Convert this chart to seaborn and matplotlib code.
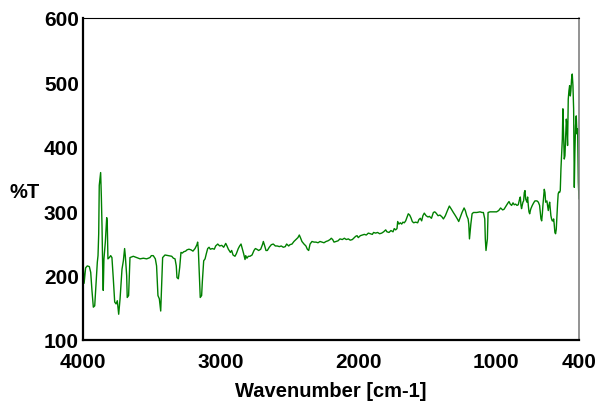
import matplotlib
matplotlib.use("Agg")
import matplotlib.pyplot as plt
import pandas as pd
import seaborn as sns
from matplotlib.ticker import FixedLocator

# IR spectrum: wavenumber (cm-1) and transmittance (%T)
wavenumber = [
    4000, 3992, 3981, 3969, 3954, 3944, 3935, 3925, 3915, 3906, 3896, 3891, 3886, 3882, 3872,
    3867, 3862, 3857, 3853, 3848, 3838, 3828, 3824, 3819, 3809, 3799, 3790, 3780, 3770, 3760,
    3751, 3741, 3731, 3722, 3717, 3707, 3698, 3693, 3683, 3679, 3669, 3664, 3659, 3635, 3610,
    3586, 3562, 3538, 3514, 3504, 3490, 3475, 3466, 3456, 3446, 3436, 3432, 3422, 3405, 3381,
    3356, 3344, 3332, 3323, 3318, 3308, 3298, 3289, 3279, 3269, 3255, 3245, 3231, 3216, 3202,
    3187, 3173, 3168, 3163, 3158, 3153, 3149, 3139, 3134, 3124, 3114, 3105, 3095, 3085, 3076,
    3061, 3047, 3037, 3022, 3008, 2993, 2979, 2964, 2955, 2945, 2930, 2921, 2911, 2897, 2887,
    2873, 2863, 2853, 2843, 2834, 2824, 2819, 2810, 2800, 2788, 2773, 2759, 2749, 2739, 2725,
    2710, 2696, 2691, 2681, 2672, 2662, 2648, 2633, 2619, 2604, 2590, 2575, 2561, 2546, 2532,
    2522, 2507, 2498, 2483, 2469, 2454, 2440, 2430, 2420, 2411, 2396, 2382, 2372, 2362, 2352,
    2338, 2323, 2309, 2294, 2280, 2265, 2251, 2236, 2222, 2207, 2198, 2188, 2178, 2164, 2149,
    2135, 2118, 2103, 2089, 2074, 2060, 2045, 2031, 2021, 2011, 2002, 1987, 1973, 1958, 1944,
    1929, 1915, 1900, 1891, 1876, 1862, 1847, 1832, 1818, 1803, 1794, 1779, 1765, 1750, 1741,
    1731, 1721, 1716, 1707, 1697, 1687, 1678, 1668, 1658, 1649, 1639, 1629, 1620, 1610, 1600,
    1586, 1571, 1562, 1552, 1542, 1533, 1523, 1510, 1496, 1486, 1471, 1457, 1447, 1437, 1423,
    1409, 1394, 1384, 1370, 1355, 1341, 1326, 1312, 1297, 1283, 1273, 1263, 1249, 1234, 1225,
    1215, 1205, 1200, 1195, 1185, 1176, 1166, 1142, 1118, 1104, 1094, 1084, 1080, 1075, 1065,
    1060, 1046, 1022, 998, 983, 969, 954, 944, 930, 918, 908, 899, 889, 879, 870,
    860, 850, 841, 831, 826, 821, 817, 807, 802, 797, 792, 787, 778, 773, 768,
    763, 758, 753, 749, 739, 729, 720, 705, 695, 686, 681, 676, 671, 666, 662,
    657, 652, 647, 642, 633, 628, 623, 618, 613, 609, 604, 599, 594, 589, 584,
    580, 575, 570, 565, 560, 555, 551, 546, 541, 536, 531, 526, 521, 517, 512,
    507, 502, 497, 492, 488, 483, 478, 473, 468, 463, 459, 454, 449, 444, 439,
    434, 430, 425, 420, 415, 410, 405, 400,
]
transmittance = [
    221, 188, 212, 215, 214, 205, 177, 151, 153, 184, 221, 231, 265, 340, 360,
    324, 277, 210, 177, 226, 252, 290, 283, 226, 228, 231, 228, 195, 159, 156,
    161, 140, 164, 192, 210, 223, 242, 231, 200, 166, 169, 200, 228, 230, 228,
    226, 227, 226, 228, 231, 231, 226, 215, 169, 164, 145, 169, 228, 232, 231,
    230, 227, 226, 215, 197, 195, 213, 236, 235, 237, 238, 240, 241, 240, 238,
    242, 248, 252, 241, 215, 192, 166, 169, 190, 223, 226, 234, 242, 244, 241,
    242, 241, 246, 249, 246, 247, 244, 250, 246, 241, 236, 239, 232, 230, 234,
    242, 246, 249, 241, 234, 225, 231, 227, 230, 230, 232, 239, 242, 241, 239,
    241, 249, 253, 246, 239, 239, 244, 248, 249, 246, 246, 245, 246, 244, 245,
    249, 246, 248, 249, 253, 256, 259, 263, 258, 253, 249, 246, 241, 239, 249,
    253, 252, 252, 251, 253, 252, 251, 253, 254, 256, 258, 256, 252, 253, 254,
    257, 256, 258, 256, 257, 255, 256, 259, 261, 262, 259, 262, 263, 264, 263,
    266, 265, 264, 267, 266, 267, 265, 266, 268, 271, 268, 267, 270, 268, 273,
    271, 273, 284, 280, 282, 280, 283, 282, 285, 290, 296, 294, 290, 284, 282,
    283, 282, 287, 289, 285, 293, 297, 293, 291, 292, 289, 298, 299, 297, 293,
    294, 291, 288, 293, 301, 308, 303, 298, 293, 288, 284, 290, 298, 305, 301,
    293, 288, 280, 257, 280, 296, 298, 298, 299, 298, 298, 288, 257, 239, 257,
    298, 299, 299, 299, 301, 305, 302, 303, 308, 312, 315, 311, 309, 313, 310,
    311, 309, 310, 319, 322, 309, 304, 314, 316, 329, 332, 319, 314, 322, 309,
    299, 296, 301, 304, 309, 313, 316, 316, 314, 309, 298, 288, 285, 296, 309,
    322, 334, 329, 314, 316, 309, 301, 309, 314, 304, 293, 288, 285, 285, 288,
    280, 267, 265, 272, 293, 314, 327, 330, 329, 332, 366, 391, 412, 459, 417,
    381, 386, 417, 443, 433, 402, 474, 487, 495, 479, 487, 505, 513, 495, 459,
    337, 391, 433, 448, 420, 428, 345, 319,
]

x_major = [4000, 3000, 2000, 1000, 400]
x_minor = [3500, 2500, 1500, 500]
y_major = [100, 200, 300, 400, 500, 600]
y_minor = [150, 250, 350, 450, 550]

sns.set_style("white")
plt.rcParams["font.family"] = ["Liberation Sans", "DejaVu Sans"]
plt.rcParams["font.weight"] = "bold"
plt.rcParams["text.color"] = "black"
plt.rcParams["axes.labelcolor"] = "black"
plt.rcParams["xtick.color"] = "black"
plt.rcParams["ytick.color"] = "black"

spectrum = pd.DataFrame({"Wavenumber": wavenumber, "T": transmittance})

W, H = 599, 402
fig = plt.figure(figsize=(W / 100, H / 100), dpi=100)
ax = fig.add_axes([83 / W, 1 - 341 / H, 496 / W, 322 / H])

sns.lineplot(data=spectrum, x="Wavenumber", y="T", estimator=None, sort=False,
             color="#008000", linewidth=1.0, ax=ax)

ax.set_xlim(4000, 400)
ax.set_ylim(100, 600)

ax.xaxis.set_major_locator(FixedLocator(x_major))
ax.xaxis.set_minor_locator(FixedLocator(x_minor))
ax.set_xticklabels([str(v) for v in x_major])
ax.yaxis.set_major_locator(FixedLocator(y_major))
ax.yaxis.set_minor_locator(FixedLocator(y_minor))
ax.set_yticklabels([str(v) for v in y_major])

ax.tick_params(axis="x", which="both", direction="in", length=7, width=1.0,
               color="#222222", labelcolor="black", pad=9, labelsize=15)
ax.tick_params(axis="y", which="major", direction="in", length=9.5, width=1.3,
               color="#111111", labelcolor="black", pad=3, labelsize=15)
ax.tick_params(axis="y", which="minor", direction="in", length=5, width=1.0,
               color="#333333")
for lbl in ax.get_xticklabels() + ax.get_yticklabels():
    lbl.set_fontweight("bold")
for lbl in ax.get_yticklabels():
    lbl.set_verticalalignment("center_baseline")

ax.spines["left"].set_linewidth(1.6)
ax.spines["left"].set_color("black")
ax.spines["bottom"].set_linewidth(1.6)
ax.spines["bottom"].set_color("black")
ax.spines["top"].set_linewidth(0.8)
ax.spines["top"].set_color("black")
ax.spines["right"].set_linewidth(1.2)
ax.spines["right"].set_color("#808080")

ax.set_xlabel("Wavenumber [cm-1]", fontsize=14.5, fontweight="bold",
              color="black", labelpad=7)
ax.set_ylabel("%T", rotation=0, fontsize=14.5, fontweight="bold", color="black",
              ha="center", va="center")
ax.yaxis.set_label_coords(-0.117, 0.46)

fig.savefig("out.png", dpi=100)
